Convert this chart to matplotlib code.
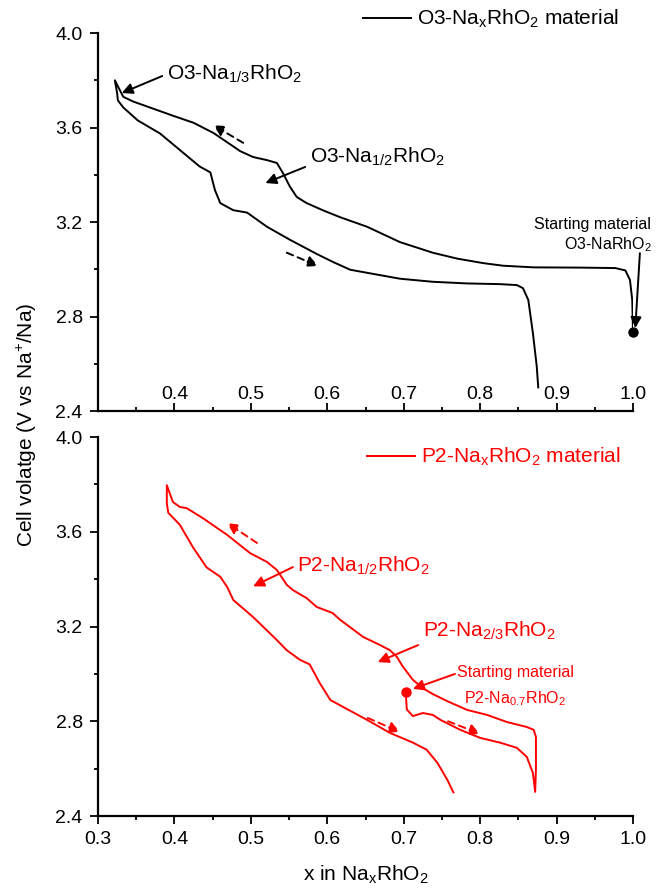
import matplotlib
matplotlib.use('Agg')
import matplotlib.pyplot as plt
from matplotlib.ticker import MultipleLocator

plt.rcParams['font.family'] = ['Liberation Sans', 'DejaVu Sans']
plt.rcParams['mathtext.default'] = 'regular'

# O3 curve: starting point -> charge (going left) -> tip -> discharge (going right)
o3_x = [1.000, 0.999, 0.996, 0.990, 0.977, 0.930, 0.870, 0.830, 0.804, 0.770,
        0.738, 0.695, 0.652, 0.617, 0.594, 0.573, 0.560, 0.551, 0.542, 0.534,
        0.521, 0.503, 0.486, 0.477, 0.451, 0.425, 0.398, 0.372, 0.346, 0.333,
        0.322,
        0.325, 0.326, 0.333, 0.352, 0.381, 0.407, 0.433, 0.447, 0.453, 0.460,
        0.477, 0.495, 0.521, 0.551, 0.586, 0.608, 0.630, 0.652, 0.695, 0.738,
        0.783, 0.826, 0.848, 0.856, 0.863, 0.869, 0.874, 0.876]
o3_v = [2.735, 2.870, 2.955, 2.995, 3.005, 3.007, 3.008, 3.015, 3.026, 3.045,
        3.070, 3.115, 3.180, 3.220, 3.250, 3.280, 3.306, 3.350, 3.407, 3.450,
        3.462, 3.475, 3.500, 3.520, 3.577, 3.620, 3.650, 3.680, 3.710, 3.730,
        3.800,
        3.745, 3.715, 3.685, 3.630, 3.575, 3.505, 3.435, 3.410, 3.335, 3.280,
        3.250, 3.240, 3.180, 3.125, 3.065, 3.030, 2.998, 2.985, 2.960, 2.947,
        2.940, 2.937, 2.933, 2.920, 2.870, 2.730, 2.590, 2.500]

# P2 curve: starting point -> discharge -> charge -> tip -> discharge
p2_x = [0.703, 0.703, 0.704, 0.712, 0.725, 0.738, 0.748, 0.774, 0.800, 0.826,
        0.848, 0.861, 0.869, 0.872,
        0.873, 0.873, 0.870, 0.861, 0.835, 0.809, 0.783, 0.757, 0.738, 0.725,
        0.712, 0.699, 0.691, 0.682, 0.669, 0.647, 0.617, 0.607, 0.586, 0.573,
        0.555, 0.547, 0.534, 0.521, 0.499, 0.469, 0.437, 0.416, 0.407, 0.398,
        0.390,
        0.390, 0.392, 0.407, 0.424, 0.442, 0.460, 0.469, 0.477, 0.503, 0.534,
        0.547, 0.564, 0.577, 0.590, 0.604, 0.621, 0.652, 0.682, 0.712, 0.730,
        0.744, 0.757, 0.765]
p2_v = [2.924, 2.903, 2.850, 2.822, 2.835, 2.827, 2.806, 2.764, 2.730, 2.710,
        2.688, 2.650, 2.582, 2.502,
        2.600, 2.734, 2.764, 2.776, 2.797, 2.827, 2.848, 2.885, 2.915, 2.940,
        2.975, 3.030, 3.072, 3.100, 3.122, 3.156, 3.228, 3.257, 3.283, 3.320,
        3.354, 3.376, 3.439, 3.473, 3.510, 3.587, 3.658, 3.700, 3.705, 3.726,
        3.797,
        3.720, 3.680, 3.630, 3.536, 3.450, 3.410, 3.367, 3.312, 3.240, 3.143,
        3.100, 3.060, 3.040, 2.962, 2.890, 2.860, 2.806, 2.751, 2.710, 2.680,
        2.625, 2.553, 2.500]

xticks = [0.3, 0.4, 0.5, 0.6, 0.7, 0.8, 0.9, 1.0]
top_xlabels = ['', '0.4', '0.5', '0.6', '0.7', '0.8', '0.9', '1.0']
bot_xlabels = ['0.3', '0.4', '0.5', '0.6', '0.7', '0.8', '0.9', '1.0']
yticks = [2.4, 2.8, 3.2, 3.6, 4.0]

RED = '#ff0000'

fig = plt.figure(figsize=(6.65, 8.9), dpi=100)
ax1 = fig.add_axes([0.1474, 0.5382, 0.8045, 0.4247])
ax2 = fig.add_axes([0.1474, 0.0831, 0.8045, 0.4258])

for ax in (ax1, ax2):
    ax.set_xlim(0.3, 1.0)
    ax.set_ylim(2.4, 4.0)
    ax.spines['top'].set_visible(False)
    ax.spines['right'].set_visible(False)
    for s in ('left', 'bottom'):
        ax.spines[s].set_linewidth(1.6)
    ax.set_xticks(xticks)
    ax.set_yticks(yticks)
    ax.set_yticklabels(['%.1f' % v for v in yticks])
    ax.xaxis.set_minor_locator(MultipleLocator(0.05))
    ax.yaxis.set_minor_locator(MultipleLocator(0.2))
    ax.tick_params(axis='y', which='major', direction='out', length=6, width=1.3,
                   labelsize=14, pad=5)
    ax.tick_params(axis='y', which='minor', direction='out', length=3, width=1.3)

ax1.set_xticklabels(top_xlabels)
ax1.tick_params(axis='x', which='major', direction='in', length=6, width=1.3,
                labelsize=14, pad=-18)
ax1.tick_params(axis='x', which='minor', direction='in', length=3, width=1.3)
ax2.set_xticklabels(bot_xlabels)
ax2.tick_params(axis='x', which='major', direction='out', length=6, width=1.3,
                labelsize=14, pad=5)
ax2.tick_params(axis='x', which='minor', direction='out', length=3, width=1.3)

# curves
ax1.plot(o3_x, o3_v, color='black', lw=1.4, label='O3-Na$_x$RhO$_2$ material')
ax1.plot([o3_x[0]], [o3_v[0]], 'o', color='black', ms=6.5, clip_on=False)
ax2.plot(p2_x, p2_v, color=RED, lw=1.4, label='P2-Na$_x$RhO$_2$ material')
ax2.plot([p2_x[0]], [p2_v[0]], 'o', color=RED, ms=6.5, clip_on=False)

# legends
ax1.legend(loc='center left', bbox_to_anchor=(363 / 665, 1 - 19 / 890),
           bbox_transform=fig.transFigure, frameon=False, borderpad=0,
           borderaxespad=0, handlelength=2.3, handletextpad=0.3, fontsize=15)
leg2 = ax2.legend(loc='center left', bbox_to_anchor=(367 / 665, 1 - 457 / 890),
                  bbox_transform=fig.transFigure, frameon=False, borderpad=0,
                  borderaxespad=0, handlelength=2.3, handletextpad=0.3, fontsize=15)
for t in leg2.get_texts():
    t.set_color(RED)


def arrow(ax, tail, tip, color, dashed=False):
    ls = (0, (3.5, 2.5)) if dashed else '-'
    ax.annotate('', xy=tip, xytext=tail, annotation_clip=False,
                arrowprops=dict(arrowstyle='-|>', color=color, lw=1.4,
                                linestyle=ls, mutation_scale=16,
                                shrinkA=0, shrinkB=0))


# top panel annotations
ax1.text(0.390, 3.801, 'O3-Na$_{1/3}$RhO$_2$', fontsize=15, va='baseline')
arrow(ax1, (0.384, 3.818), (0.331, 3.746), 'black')
ax1.text(0.5775, 3.450, 'O3-Na$_{1/2}$RhO$_2$', fontsize=15, va='baseline')
arrow(ax1, (0.571, 3.433), (0.519, 3.365), 'black')
ax1.text(1.024, 3.170, 'Starting material', fontsize=11.5, ha='right', va='baseline')
ax1.text(1.024, 3.086, 'O3-NaRhO$_2$', fontsize=11.5, ha='right', va='baseline')
arrow(ax1, (1.009, 3.068), (1.003, 2.751), 'black')
arrow(ax1, (0.490, 3.535), (0.451, 3.610), 'black', dashed=True)
arrow(ax1, (0.547, 3.070), (0.588, 3.014), 'black', dashed=True)

# bottom panel annotations
ax2.text(0.5605, 3.430, 'P2-Na$_{1/2}$RhO$_2$', fontsize=15, va='baseline', color=RED)
arrow(ax2, (0.555, 3.451), (0.503, 3.370), RED)
ax2.text(0.7254, 3.156, 'P2-Na$_{2/3}$RhO$_2$', fontsize=15, va='baseline', color=RED)
arrow(ax2, (0.719, 3.122), (0.666, 3.050), RED)
ax2.text(0.846, 2.987, 'Starting material', fontsize=11.5, ha='center',
         va='baseline', color=RED)
ax2.text(0.846, 2.878, 'P2-Na$_{0.7}$RhO$_2$', fontsize=11.5, ha='center',
         va='baseline', color=RED)
arrow(ax2, (0.767, 3.000), (0.712, 2.937), RED)
arrow(ax2, (0.508, 3.553), (0.469, 3.637), RED, dashed=True)
arrow(ax2, (0.653, 2.814), (0.695, 2.755), RED, dashed=True)
arrow(ax2, (0.758, 2.800), (0.800, 2.747), RED, dashed=True)

# axis labels
fig.text(27 / 665, 1 - 425 / 890, 'Cell volatge (V vs Na$^{+}$/Na)', fontsize=15,
         rotation=90, ha='center', va='center')
fig.text(365.5 / 665, 1 - 881 / 890, 'x in Na$_x$RhO$_2$', fontsize=15,
         ha='center', va='baseline')

fig.savefig('out.png', dpi=100, facecolor='white')
